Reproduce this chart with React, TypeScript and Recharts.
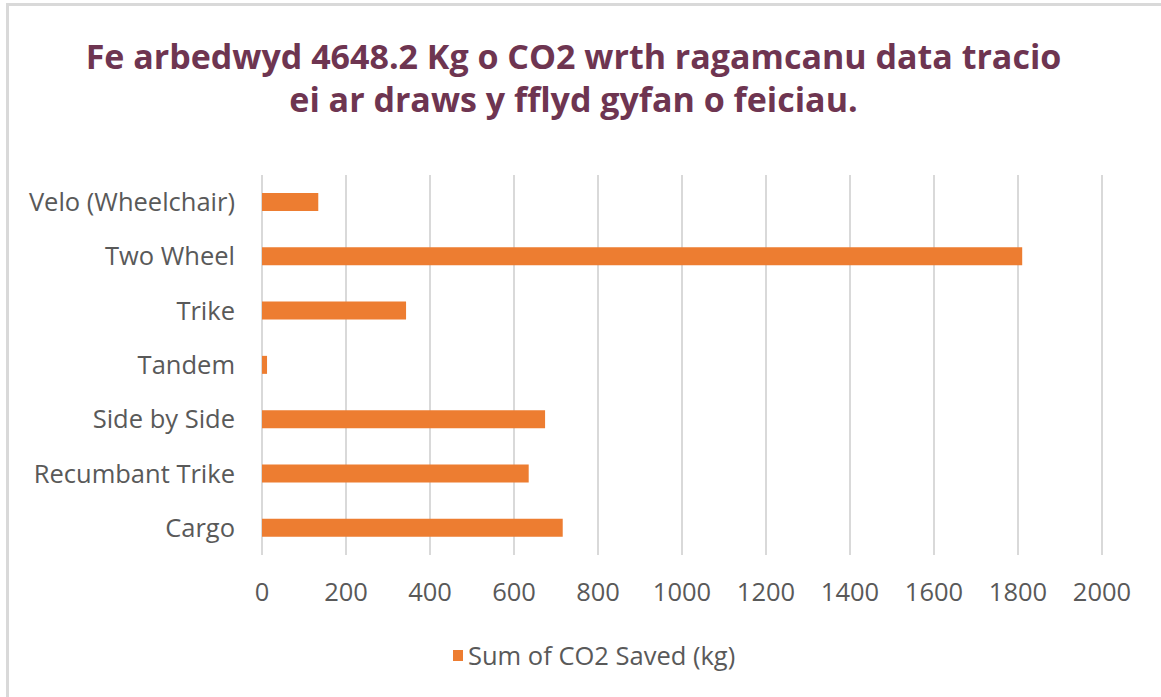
import { BarChart, Bar, XAxis, YAxis, CartesianGrid, Legend } from "recharts";

const categories = [
  "Velo (Wheelchair)",
  "Two Wheel",
  "Trike",
  "Tandem",
  "Side by Side",
  "Recumbant Trike",
  "Cargo",
];
const co2Saved = [134, 1810, 343, 12, 674, 635, 716];
const xTicks = [0, 200, 400, 600, 800, 1000, 1200, 1400, 1600, 1800, 2000];
const seriesName = "Sum of CO2 Saved (kg)";
const titleLines = [
  "Fe arbedwyd 4648.2 Kg o CO2 wrth ragamcanu data tracio",
  "ei ar draws y fflyd gyfan o feiciau.",
];

const data = categories.map((name, i) => ({ name, co2: co2Saved[i] }));

const axisFont = "'Open Sans', sans-serif";
const textGray = "#595959";

function LegendContent() {
  return (
    <div style={{ display: "flex", alignItems: "center", fontFamily: axisFont, fontSize: 25.5, color: textGray }}>
      <span style={{ display: "inline-block", width: 10, height: 11, background: "#ED7D31", marginRight: 5 }} />
      {seriesName}
    </div>
  );
}

export default function App() {
  return (
    <div style={{ position: "absolute", left: 0, top: 0, width: 1161, height: 697, background: "#fff", overflow: "hidden" }}>
      <div
        style={{
          position: "absolute",
          left: 6,
          top: 3,
          width: 1200,
          height: 720,
          borderTop: "3px solid #d9d9d9",
          borderLeft: "3px solid #d9d9d9",
        }}
      />
      <div
        style={{
          position: "absolute",
          left: 0,
          top: 35,
          width: 1147,
          textAlign: "center",
          fontFamily: "'Open Sans', sans-serif",
          fontWeight: 700,
          fontSize: 34,
          lineHeight: "43px",
          color: "#6E3551",
        }}
      >
        {titleLines.map((l) => (
          <div key={l}>{l}</div>
        ))}
      </div>
      <div style={{ position: "absolute", left: 0, top: 0 }}>
        <BarChart
          width={1161}
          height={697}
          data={data}
          layout="vertical"
          margin={{ top: 175, right: 59, left: 0, bottom: 102 }}
          barCategoryGap={0}
        >
          <CartesianGrid horizontal={false} stroke="#d9d9d9" strokeWidth={2} />
          <XAxis
            type="number"
            domain={[0, 2000]}
            ticks={xTicks}
            axisLine={false}
            tickLine={false}
            tickMargin={22}
            height={40}
            tick={{ fontSize: 25.5, fill: textGray, fontFamily: axisFont }}
          />
          <YAxis
            type="category"
            dataKey="name"
            width={262}
            axisLine={false}
            tickLine={false}
            tickMargin={21}
            tick={{ fontSize: 25.5, fill: textGray, fontFamily: axisFont }}
          />
          <Legend
            layout="horizontal"
            verticalAlign="middle"
            align="center"
            content={<LegendContent />}
            wrapperStyle={{ top: 638, left: 453, width: "auto" }}
          />
          <Bar dataKey="co2" name={seriesName} fill="#ED7D31" barSize={18} isAnimationActive={false} />
        </BarChart>
      </div>
    </div>
  );
}
